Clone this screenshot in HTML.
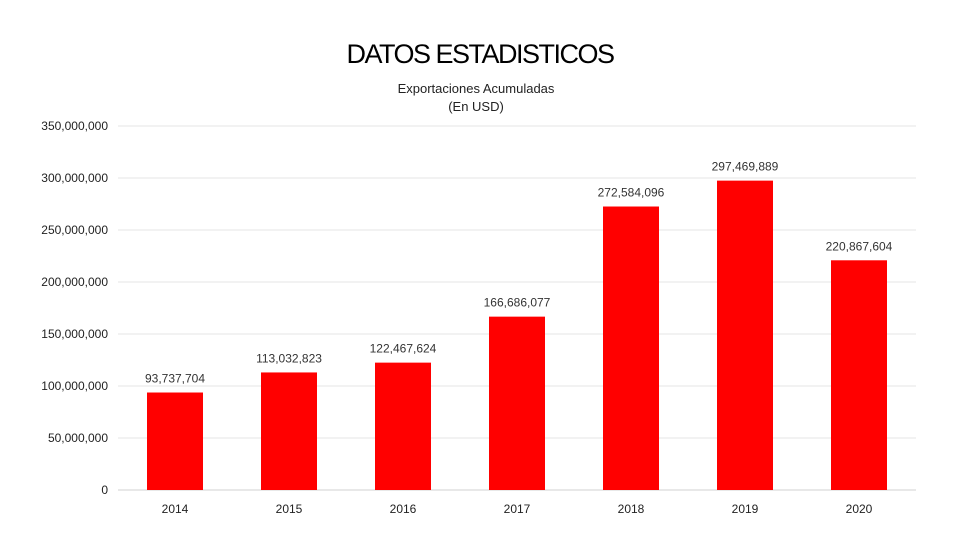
<!DOCTYPE html>
<html><head><meta charset="utf-8"><style>
body{margin:0;background:#fff;}
svg{display:block;font-family:"Liberation Sans",sans-serif;}
</style></head><body>
<svg id="c" width="960" height="540">
<text x="480" y="63" text-anchor="middle" font-size="27" fill="#000" letter-spacing="-1.5">DATOS ESTADISTICOS</text>
<text x="476" y="93" text-anchor="middle" font-size="13" fill="#222">Exportaciones Acumuladas</text>
<text x="476" y="111" text-anchor="middle" font-size="13" fill="#222">(En USD)</text>
<g id="grid"></g><g id="bars"></g>
</svg>
<script>
const categories=["2014","2015","2016","2017","2018","2019","2020"];
const values=[93737704,113032823,122467624,166686077,272584096,297469889,220867604];
const yTicks=[0,50000000,100000000,150000000,200000000,250000000,300000000,350000000];
const NS="http://www.w3.org/2000/svg";
const x0=118,x1=916,yBase=490,yTop=126,yMax=350000000;
const y=v=>yBase-(v/yMax)*(yBase-yTop);
const band=(x1-x0)/categories.length;
const xc=i=>x0+band*(i+0.5);
const fmt=v=>v.toLocaleString("en-US");
const grid=document.getElementById("grid"),bars=document.getElementById("bars");
function mk(t,a,p){const e=document.createElementNS(NS,t);for(const k in a)e.setAttribute(k,a[k]);p.appendChild(e);return e;}
yTicks.forEach(t=>{
  const l=mk("line",{x1:x0,x2:x1,y1:y(t),y2:y(t),stroke:t===0?"#d0d0d0":"#e4e4e4","stroke-width":1},grid);
  
  
  const tx=mk("text",{x:108,y:y(t)+4,"text-anchor":"end","font-size":12,fill:"#222"},grid);
  tx.textContent=fmt(t);
  
  
});
values.forEach((v,i)=>{
  const w=56;
  const r=mk("rect",{x:xc(i)-w/2,y:y(v),width:w,height:yBase-y(v),fill:"#ff0000"},bars);
  
  
  const lb=mk("text",{x:xc(i),y:y(v)-10,"text-anchor":"middle","font-size":12,fill:"#333"},bars);
  lb.textContent=fmt(v);
  
  
  const cx=mk("text",{x:xc(i),y:513,"text-anchor":"middle","font-size":12,fill:"#222"},bars);
  cx.textContent=categories[i];
  
  
});
</script>
</body></html>
